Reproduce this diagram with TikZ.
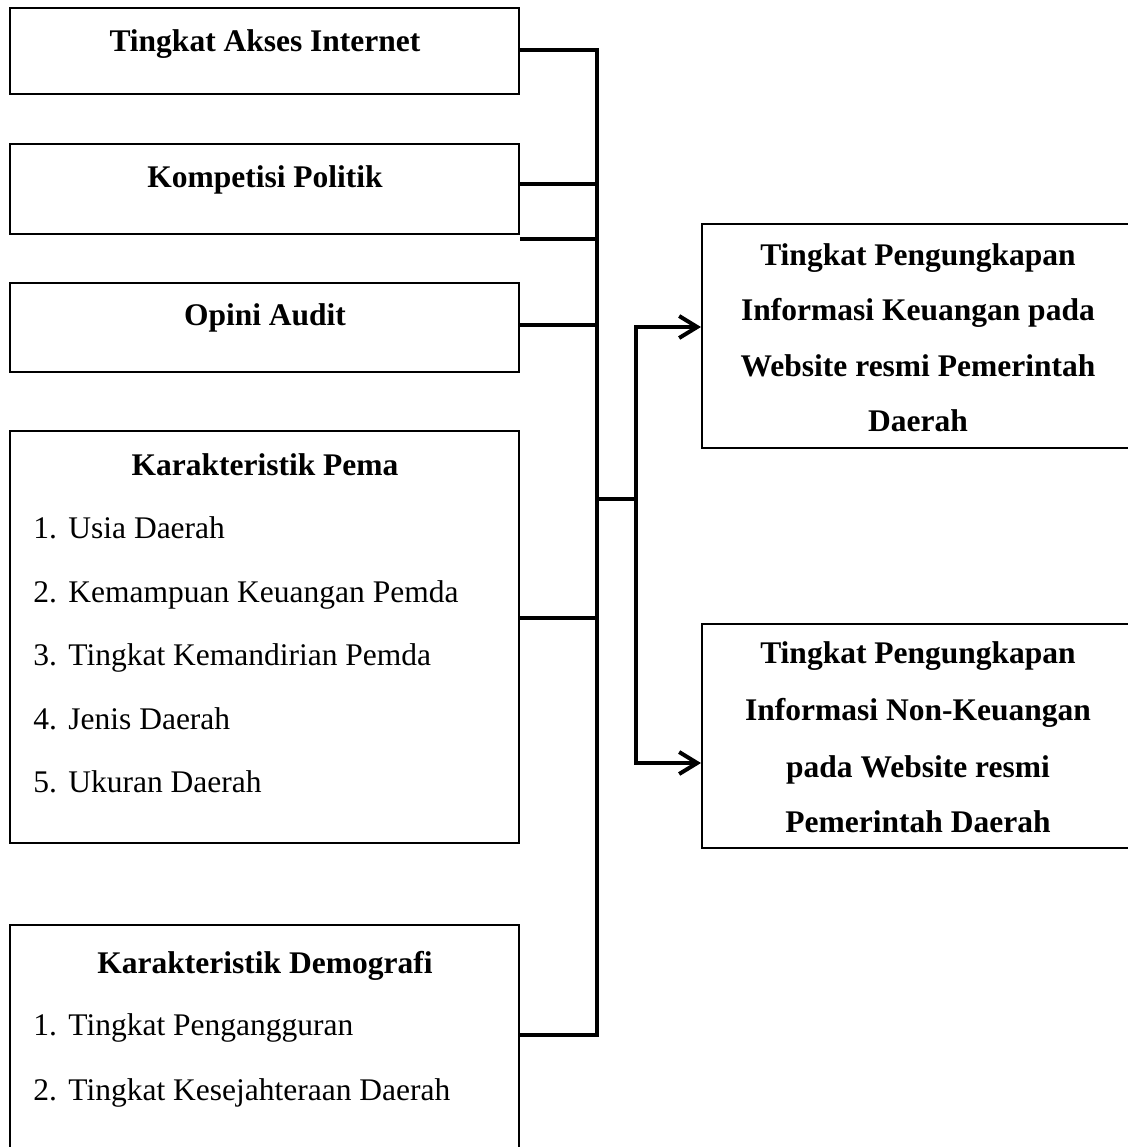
\documentclass[tikz,border=0pt]{standalone}
\usepackage{fontspec}
\setmainfont{Liberation Serif}
\usetikzlibrary{fit,arrows.meta}
\begin{document}
\begin{tikzpicture}[x=0.5pt,y=-0.5pt,
  box/.style={draw=black,line width=1pt,inner sep=0pt,fill=none},
  conn/.style={draw=black,line width=2pt,line join=miter},
  arr/.style={conn,-{Straight Barb[length=9pt,width=11pt,line width=2pt]}},
  ttl/.style={anchor=base,font=\fontsize{15.75pt}{20pt}\selectfont\bfseries,inner sep=0pt},
  itm/.style={anchor=base west,font=\fontsize{15.75pt}{20pt}\selectfont,inner sep=0pt}]
\useasboundingbox (0,0) rectangle (1128,1147);
\fill[white] (0,0) rectangle (1128,1147);
% boxes
\node[box,fit={(10,8) (519,94)}] (b1) {};
\node[box,fit={(10,144) (519,234)}] (b2) {};
\node[box,fit={(10,283) (519,372)}] (b3) {};
\node[box,fit={(10,431) (519,843)}] (b4) {};
\node[box,fit={(10,925) (519,1154)}] (b5) {};
\node[box,fit={(702,224) (1134,448)}] (r1) {};
\node[box,fit={(702,624) (1134,848)}] (r2) {};
% left texts
\node[ttl] (t1) at (265,51) {Tingkat Akses Internet};
\node[ttl] (t2) at (265,187) {Kompetisi Politik};
\node[ttl] (t3) at (265,325) {Opini Audit};
\node[ttl] (t4) at (265,475) {Karakteristik Pema};
\node[itm] (t4a) at (33,538) {\makebox[17.5pt][l]{1.}Usia Daerah};
\node[itm] (t4b) at (33,602) {\makebox[17.5pt][l]{2.}Kemampuan Keuangan Pemda};
\node[itm] (t4c) at (33,665.5) {\makebox[17.5pt][l]{3.}Tingkat Kemandirian Pemda};
\node[itm] (t4d) at (33,729) {\makebox[17.5pt][l]{4.}Jenis Daerah};
\node[itm] (t4e) at (33,792.5) {\makebox[17.5pt][l]{5.}Ukuran Daerah};
\node[ttl] (t5) at (265,973) {Karakteristik Demografi};
\node[itm] (t5a) at (33,1035) {\makebox[17.5pt][l]{1.}Tingkat Pengangguran};
\node[itm] (t5b) at (33,1100) {\makebox[17.5pt][l]{2.}Tingkat Kesejahteraan Daerah};
% right texts
\node[ttl] (r1a) at (918,265) {Tingkat Pengungkapan};
\node[ttl] (r1b) at (918,320) {Informasi Keuangan pada};
\node[ttl] (r1c) at (918,376) {Website resmi Pemerintah};
\node[ttl] (r1d) at (918,431) {Daerah};
\node[ttl] (r2a) at (918,663) {Tingkat Pengungkapan};
\node[ttl] (r2b) at (918,720) {Informasi Non-Keuangan};
\node[ttl] (r2c) at (918,777) {pada Website resmi};
\node[ttl] (r2d) at (918,832) {Pemerintah Daerah};
% connectors
\coordinate (bt) at (597,50);
\coordinate (bb) at (597,1035);
\coordinate (j2) at (597,184);
\coordinate (j2s) at (597,239);
\coordinate (j3) at (597,325);
\coordinate (j4) at (597,618);
\coordinate (jm) at (597,499);
\coordinate (km) at (636,499);
\coordinate (k1) at (636,327);
\coordinate (k2) at (636,763);
\draw[conn] (b1.east |- bt) -- (bt) -- (bb) -- (b5.east |- bb);
\draw[conn] (b2.east |- j2) -- (j2);
\draw[conn] (b2.east |- j2s) -- (j2s);
\draw[conn] (b3.east |- j3) -- (j3);
\draw[conn] (b4.east |- j4) -- (j4);
\draw[conn] (jm) -- (km);
\draw[arr] (km) -- (k1) -- (r1.west |- k1);
\draw[arr] (km) -- (k2) -- (r2.west |- k2);
\end{tikzpicture}
\end{document}
